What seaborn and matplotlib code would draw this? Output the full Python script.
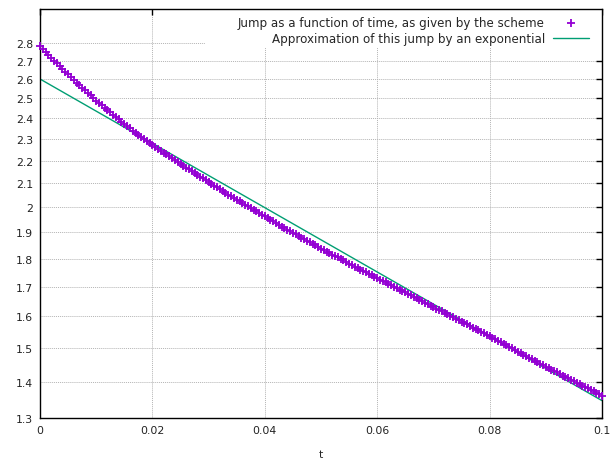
import numpy as np
import pandas as pd
import matplotlib
matplotlib.use("Agg")
import matplotlib.pyplot as plt
import seaborn as sns
from matplotlib.patches import Rectangle
from matplotlib.ticker import FixedLocator, FuncFormatter, NullLocator

# jump values given by the scheme, one every 0.0005 in t from 0 to 0.1
t_step = 0.0005
jump = [
    2.780, 2.764, 2.748, 2.732, 2.716, 2.700, 2.685, 2.669, 2.654, 2.639, 2.624,
    2.609, 2.595, 2.581, 2.567, 2.553, 2.540, 2.527, 2.514, 2.501, 2.488,
    2.476, 2.464, 2.452, 2.440, 2.429, 2.417, 2.406, 2.394, 2.383, 2.372,
    2.361, 2.351, 2.340, 2.330, 2.320, 2.310, 2.301, 2.291, 2.282, 2.272,
    2.263, 2.255, 2.246, 2.237, 2.229, 2.220, 2.211, 2.203, 2.194, 2.185,
    2.177, 2.169, 2.161, 2.153, 2.146, 2.138, 2.130, 2.122, 2.114, 2.106,
    2.098, 2.091, 2.083, 2.075, 2.068, 2.060, 2.053, 2.046, 2.039, 2.032,
    2.025, 2.018, 2.011, 2.004, 1.997, 1.990, 1.983, 1.976, 1.969, 1.963,
    1.956, 1.950, 1.943, 1.936, 1.930, 1.923, 1.917, 1.911, 1.904, 1.898,
    1.892, 1.886, 1.880, 1.874, 1.868, 1.862, 1.856, 1.850, 1.844, 1.838,
    1.833, 1.827, 1.822, 1.816, 1.810, 1.805, 1.799, 1.794, 1.788, 1.782,
    1.777, 1.772, 1.767, 1.761, 1.756, 1.751, 1.746, 1.740, 1.735, 1.730,
    1.725, 1.720, 1.715, 1.710, 1.705, 1.700, 1.695, 1.690, 1.686, 1.681,
    1.676, 1.671, 1.666, 1.661, 1.656, 1.651, 1.646, 1.641, 1.636, 1.631,
    1.626, 1.621, 1.617, 1.612, 1.607, 1.602, 1.597, 1.593, 1.588, 1.583,
    1.578, 1.574, 1.569, 1.564, 1.560, 1.555, 1.550, 1.546, 1.541, 1.536,
    1.532, 1.527, 1.522, 1.518, 1.513, 1.508, 1.503, 1.499, 1.494, 1.489,
    1.485, 1.480, 1.476, 1.471, 1.467, 1.462, 1.458, 1.453, 1.449, 1.444,
    1.440, 1.435, 1.431, 1.427, 1.423, 1.418, 1.414, 1.410, 1.406, 1.401,
    1.397, 1.393, 1.389, 1.385, 1.381, 1.377, 1.373, 1.369, 1.365, 1.361,
]
t = np.arange(len(jump)) * t_step

# exponential fit: straight line on the log axis between its ends
fit_t = [0.0, 0.1]
fit_v = [2.6, 1.347]

xticks = [0, 0.02, 0.04, 0.06, 0.08, 0.1]
yticks = [1.3, 1.4, 1.5, 1.6, 1.7, 1.8, 1.9, 2.0, 2.1, 2.2, 2.3, 2.4, 2.5, 2.6, 2.7, 2.8]

lab1 = "Jump as a function of time, as given by the scheme"
lab2 = "Approximation of this jump by an exponential"

sns.set_theme(style="white")
plt.rcParams['font.family'] = ['DejaVu Sans']

df = pd.DataFrame({"t": t, "jump": jump})
fit = pd.DataFrame({"t": fit_t, "v": fit_v})

fig = plt.figure(figsize=(6.1, 4.64), dpi=100)
ax = fig.add_axes([40/610, 1-419/464, 562/610, 409/464])

sns.scatterplot(data=df, x="t", y="jump", marker="+", s=36, color="#9400d3",
                linewidth=1.3, label=lab1, ax=ax, zorder=3, clip_on=False)
sns.lineplot(data=fit, x="t", y="v", color="#009e73", linewidth=1.0,
             label=lab2, ax=ax, zorder=2)

ax.set_yscale("log")
ax.set_xlim(0, 0.1)
ax.set_ylim(1.3, 3.0)
ax.xaxis.set_major_locator(FixedLocator(xticks))
ax.yaxis.set_major_locator(FixedLocator(yticks))
ax.yaxis.set_minor_locator(NullLocator())
ax.xaxis.set_major_formatter(FuncFormatter(lambda v, p: "%g" % v))
ax.yaxis.set_major_formatter(FuncFormatter(lambda v, p: "%g" % v))

ax.grid(True, color="#b4b4b4", linestyle=(0, (1, 1)), linewidth=0.7)
ax.set_axisbelow(True)
ax.tick_params(direction="in", length=4, width=1, top=True, right=True,
               labelsize=7.8, pad=5, color="black", labelcolor="#222222")
for s in ax.spines.values():
    s.set_color("black")
    s.set_linewidth(1)

ax.set_xlabel("t", fontsize=7.8, labelpad=10)
ax.set_ylabel("")

# key area hides the grid behind it
ax.add_patch(Rectangle((165/562, 0.905), 1 - 165/562, 0.095, transform=ax.transAxes,
                       facecolor="white", edgecolor="none", zorder=1))

ax.legend(loc="upper right", bbox_to_anchor=(0.992, 1.004), frameon=False,
          markerfirst=False, fontsize=8.6, handlelength=3.0, handletextpad=0.7,
          labelspacing=0.25, borderpad=0.5, borderaxespad=0.2)

fig.savefig("out.png", dpi=100)
